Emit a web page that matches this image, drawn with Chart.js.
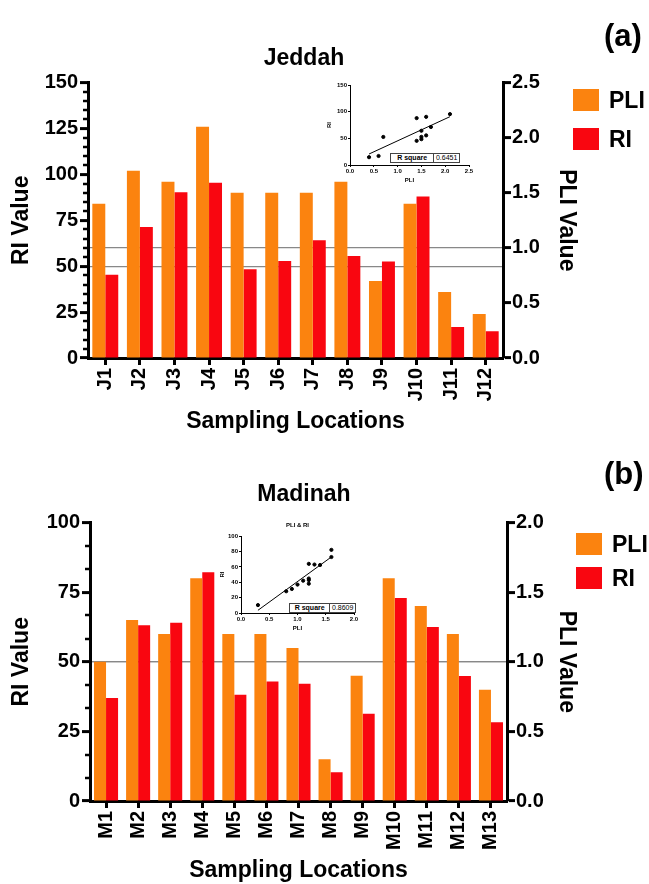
<!DOCTYPE html>
<html>
<head>
<meta charset="utf-8">
<script src="https://cdn.jsdelivr.net/npm/chart.js@4.4.1/dist/chart.umd.min.js"></script>
<style>
  html, body { margin: 0; padding: 0; background: #fff; }
  body { width: 649px; height: 884px; position: relative; overflow: hidden;
         font-family: "Liberation Sans", Arial, sans-serif; color: #000; }
  canvas { position: absolute; }
  .tag { position: absolute; font-weight: bold; font-size: 31px; line-height: 36px; }
  .key { position: absolute; display: flex; align-items: center; height: 22px;
         font-weight: bold; font-size: 23px; }
  .key span { display: inline-block; width: 26px; height: 22px; margin-right: 10px; }
  .rsq { position: absolute; display: flex; border: 1px solid #444; background: #fff;
         font-size: 7px; line-height: 8px; box-sizing: border-box; }
  .rsq div { text-align: center; }
  .rsq div:first-child { font-weight: bold; border-right: 1px solid #444; }
</style>
</head>
<body>
<canvas id="jeddahChart" width="608" height="440" style="left:0;top:0"></canvas>
<canvas id="madinahChart" width="608" height="444" style="left:0;top:440px"></canvas>
<canvas id="jeddahInset" width="160" height="112" style="left:318px;top:76px"></canvas>
<canvas id="madinahInset" width="155" height="120" style="left:208px;top:515px"></canvas>

<div class="tag" style="left:604px;top:18px">(a)</div>
<div class="tag" style="left:604px;top:456px">(b)</div>

<div class="key" style="left:573px;top:89px"><span style="background:#FB830F"></span>PLI</div>
<div class="key" style="left:573px;top:128px"><span style="background:#F90610"></span>RI</div>
<div class="key" style="left:576px;top:533px"><span style="background:#FB830F"></span>PLI</div>
<div class="key" style="left:576px;top:567px"><span style="background:#F90610"></span>RI</div>

<div class="rsq" id="jeddahRsq" style="left:390px;top:153px;width:70px;height:10px">
  <div style="width:43px">R square</div><div style="width:25px"></div>
</div>
<div class="rsq" id="madinahRsq" style="left:289px;top:603px;width:67px;height:10px">
  <div style="width:40px">R square</div><div style="width:25px"></div>
</div>

<script>
// ---- data ----
const jeddahLabels = ['J1', 'J2', 'J3', 'J4', 'J5', 'J6', 'J7', 'J8', 'J9', 'J10', 'J11', 'J12'];
const jeddahPli = [1.4, 1.7, 1.6, 2.1, 1.5, 1.5, 1.5, 1.6, 0.7, 1.4, 0.6, 0.4];
const jeddahRi = [45.3, 71.3, 90.3, 95.4, 48.4, 52.8, 64.2, 55.5, 52.6, 87.9, 16.9, 14.6];
const jeddahRiTicks = [0, 25, 50, 75, 100, 125, 150];
const jeddahPliTicks = [0, 0.5, 1.0, 1.5, 2.0, 2.5];
const jeddahRiLines = [50];      // grey reference line on RI axis
const jeddahPliLines = [1.0];    // grey reference line on PLI axis
const jeddahFitX = [0.4, 2.1];
const jeddahFitY = [20.6, 90.6];
const jeddahRSquare = '0.6451';
const jeddahInsetXTicks = [0, 0.5, 1.0, 1.5, 2.0, 2.5];
const jeddahInsetYTicks = [0, 50, 100, 150];

const madinahLabels = ['M1', 'M2', 'M3', 'M4', 'M5', 'M6', 'M7', 'M8', 'M9', 'M10', 'M11', 'M12', 'M13'];
const madinahPli = [1.0, 1.3, 1.2, 1.6, 1.2, 1.2, 1.1, 0.3, 0.9, 1.6, 1.4, 1.2, 0.8];
const madinahRi = [37.0, 63.1, 64.0, 82.2, 38.2, 42.9, 42.1, 10.3, 31.3, 72.9, 62.5, 44.9, 28.3];
const madinahRiTicks = [0, 25, 50, 75, 100];
const madinahPliTicks = [0, 0.5, 1.0, 1.5, 2.0];
const madinahRiLines = [50];
const madinahPliLines = [1.0];
const madinahFitX = [0.3, 1.6];
const madinahFitY = [3.5, 73.0];
const madinahRSquare = '0.8609';
const madinahInsetXTicks = [0, 0.5, 1.0, 1.5, 2.0];
const madinahInsetYTicks = [0, 20, 40, 60, 80, 100];

const PLI_COLOR = '#FB830F';
const RI_COLOR = '#F90610';
const FONT = "'Liberation Sans', Arial, sans-serif";

document.getElementById('jeddahRsq').lastElementChild.textContent = jeddahRSquare;
document.getElementById('madinahRsq').lastElementChild.textContent = madinahRSquare;

// small minor ticks on the left RI axis
const minorTicks = {
    id: 'minorTicks',
    afterDraw(chart, args, opts) {
        if (!opts.count) return;
        const s = chart.scales.y;
        const ctx = chart.ctx;
        const major = s.ticks.map(t => t.value);
        ctx.save();
        ctx.strokeStyle = '#000';
        ctx.lineWidth = 2.5;
        for (let i = 0; i < major.length - 1; i++) {
            const step = (major[i + 1] - major[i]) / (opts.count + 1);
            for (let k = 1; k <= opts.count; k++) {
                const y = Math.round(s.getPixelForValue(major[i] + step * k));
                ctx.beginPath();
                ctx.moveTo(s.right, y);
                ctx.lineTo(s.right - 5, y);
                ctx.stroke();
            }
        }
        ctx.restore();
    }
};

function fixedTicks(values) {
    return function(scale) {
        scale.ticks = values.map(v => ({ value: v }));
    };
}

function makeBarChart(id, cfg) {
    return new Chart(document.getElementById(id), {
        type: 'bar',
        data: {
            labels: cfg.labels,
            datasets: [{
                label: 'PLI',
                data: cfg.pli,
                yAxisID: 'y1',
                backgroundColor: PLI_COLOR,
                borderWidth: 0
            }, {
                label: 'RI',
                data: cfg.ri,
                yAxisID: 'y',
                backgroundColor: RI_COLOR,
                borderWidth: 0
            }]
        },
        plugins: [minorTicks],
        options: {
            responsive: false,
            animation: false,
            layout: { padding: 0 },
            datasets: { bar: { categoryPercentage: 0.75, barPercentage: 1.0 } },
            plugins: {
                legend: { display: false },
                tooltip: { enabled: false },
                title: {
                    display: true,
                    text: cfg.title,
                    color: '#000',
                    font: { family: FONT, size: 23, weight: 'bold', lineHeight: 1.2 },
                    padding: { top: cfg.titleTop, bottom: cfg.titleBottom }
                },
                minorTicks: { count: cfg.minor }
            },
            scales: {
                x: {
                    afterFit: s => { s.height = cfg.xHeight; },
                    border: { color: '#000', width: 3 },
                    grid: { display: true, offset: false, drawOnChartArea: false,
                            tickLength: 7, tickWidth: 3, tickColor: '#000' },
                    ticks: {
                        autoSkip: false, minRotation: 90, maxRotation: 90, padding: 3,
                        color: '#000', font: { family: FONT, size: 20, weight: 'bold' }
                    },
                    title: {
                        display: true, text: 'Sampling Locations', color: '#000',
                        font: { family: FONT, size: 23, weight: 'bold', lineHeight: 1.2 },
                        padding: { top: 0, bottom: cfg.xTitleBottom }
                    }
                },
                y: {
                    position: 'left',
                    min: cfg.riTicks[0],
                    max: cfg.riTicks[cfg.riTicks.length - 1],
                    afterBuildTicks: fixedTicks(cfg.riTicks),
                    afterFit: s => { s.width = cfg.leftWidth; },
                    border: { color: '#000', width: 3 },
                    grid: {
                        drawOnChartArea: true,
                        color: c => cfg.riLines.includes(c.tick && c.tick.value) ? '#888' : 'rgba(0,0,0,0)',
                        lineWidth: 1.2,
                        tickLength: 8, tickWidth: 3, tickColor: '#000'
                    },
                    ticks: { padding: 2, color: '#000', font: { family: FONT, size: 20, weight: 'bold' } },
                    title: {
                        display: true, text: 'RI Value', color: '#000',
                        font: { family: FONT, size: 23, weight: 'bold', lineHeight: 1.2 },
                        padding: { top: 8, bottom: 0 }
                    }
                },
                y1: {
                    position: 'right',
                    min: cfg.pliTicks[0],
                    max: cfg.pliTicks[cfg.pliTicks.length - 1],
                    afterBuildTicks: fixedTicks(cfg.pliTicks),
                    afterFit: s => { s.width = cfg.rightWidth; },
                    border: { color: '#000', width: 3 },
                    grid: {
                        drawOnChartArea: true,
                        color: c => cfg.pliLines.includes(c.tick && c.tick.value) ? '#888' : 'rgba(0,0,0,0)',
                        lineWidth: 1.2,
                        tickLength: 8, tickWidth: 3, tickColor: '#000'
                    },
                    ticks: {
                        padding: 1, color: '#000', font: { family: FONT, size: 20, weight: 'bold' },
                        callback: v => Number(v).toFixed(1)
                    },
                    title: {
                        display: true, text: 'PLI Value', color: '#000',
                        font: { family: FONT, size: 23, weight: 'bold', lineHeight: 1.2 },
                        padding: { top: cfg.rightTitleTop, bottom: 0 }
                    }
                }
            }
        }
    });
}

function makeInset(id, cfg) {
    const small = { family: FONT, size: 6, weight: 'bold' };
    return new Chart(document.getElementById(id), {
        type: 'scatter',
        data: {
            datasets: [{
                data: cfg.pli.map((p, i) => ({ x: p, y: cfg.ri[i] })),
                backgroundColor: '#000',
                borderColor: '#000',
                pointRadius: 1.6
            }, {
                type: 'line',
                data: cfg.fitX.map((x, i) => ({ x: x, y: cfg.fitY[i] })),
                borderColor: '#000',
                borderWidth: 1,
                pointRadius: 0,
                fill: false
            }]
        },
        options: {
            responsive: false,
            animation: false,
            layout: { padding: { top: cfg.padTop, right: cfg.padRight, left: 0, bottom: 0 } },
            plugins: {
                legend: { display: false },
                tooltip: { enabled: false },
                title: {
                    display: !!cfg.title, text: cfg.title, color: '#000', fullSize: false,
                    font: { family: FONT, size: 6, weight: 'bold', lineHeight: 1.2 },
                    padding: { top: cfg.titleTop || 0, bottom: cfg.titleBottom || 0 }
                }
            },
            scales: {
                x: {
                    type: 'linear',
                    min: cfg.xTicks[0],
                    max: cfg.xTicks[cfg.xTicks.length - 1],
                    afterBuildTicks: fixedTicks(cfg.xTicks),
                    afterFit: s => { s.height = cfg.xHeight; },
                    border: { color: '#000', width: 1 },
                    grid: { drawOnChartArea: false, tickLength: 2, tickWidth: 1, tickColor: '#000' },
                    ticks: { padding: 1, color: '#000', font: small, callback: v => Number(v).toFixed(1) },
                    title: { display: true, text: 'PLI', color: '#000',
                             font: { family: FONT, size: 6, weight: 'bold', lineHeight: 1.2 },
                             padding: { top: 0, bottom: cfg.xTitleBottom } }
                },
                y: {
                    min: cfg.yTicks[0],
                    max: cfg.yTicks[cfg.yTicks.length - 1],
                    afterBuildTicks: fixedTicks(cfg.yTicks),
                    afterFit: s => { s.width = cfg.yWidth; },
                    border: { color: '#000', width: 1 },
                    grid: { drawOnChartArea: false, tickLength: 2, tickWidth: 1, tickColor: '#000' },
                    ticks: { padding: 1, color: '#000', font: small },
                    title: { display: true, text: 'RI', color: '#000',
                             font: { family: FONT, size: 6, weight: 'bold', lineHeight: 1.2 },
                             padding: { top: cfg.yTitleTop, bottom: 0 } }
                }
            }
        }
    });
}

makeBarChart('jeddahChart', {
    title: 'Jeddah', labels: jeddahLabels, pli: jeddahPli, ri: jeddahRi,
    riTicks: jeddahRiTicks, pliTicks: jeddahPliTicks,
    riLines: jeddahRiLines, pliLines: jeddahPliLines, minor: 4,
    titleTop: 45, titleBottom: 10, xHeight: 82, xTitleBottom: 5,
    leftWidth: 88, rightWidth: 105, rightTitleTop: 28
});

makeBarChart('madinahChart', {
    title: 'Madinah', labels: madinahLabels, pli: madinahPli, ri: madinahRi,
    riTicks: madinahRiTicks, pliTicks: madinahPliTicks,
    riLines: madinahRiLines, pliLines: madinahPliLines, minor: 2,
    titleTop: 41, titleBottom: 14, xHeight: 83, xTitleBottom: 0,
    leftWidth: 90, rightWidth: 101, rightTitleTop: 28
});

makeInset('jeddahInset', {
    pli: jeddahPli, ri: jeddahRi, fitX: jeddahFitX, fitY: jeddahFitY,
    xTicks: jeddahInsetXTicks, yTicks: jeddahInsetYTicks,
    padTop: 9, padRight: 9, xHeight: 23, yWidth: 32,
    xTitleBottom: 4, yTitleTop: 8
});

makeInset('madinahInset', {
    pli: madinahPli, ri: madinahRi, fitX: madinahFitX, fitY: madinahFitY,
    xTicks: madinahInsetXTicks, yTicks: madinahInsetYTicks,
    title: 'PLI & RI', titleTop: 7, titleBottom: 7,
    padTop: 0, padRight: 9, xHeight: 22, yWidth: 33,
    xTitleBottom: 3, yTitleTop: 11
});
</script>
</body>
</html>
